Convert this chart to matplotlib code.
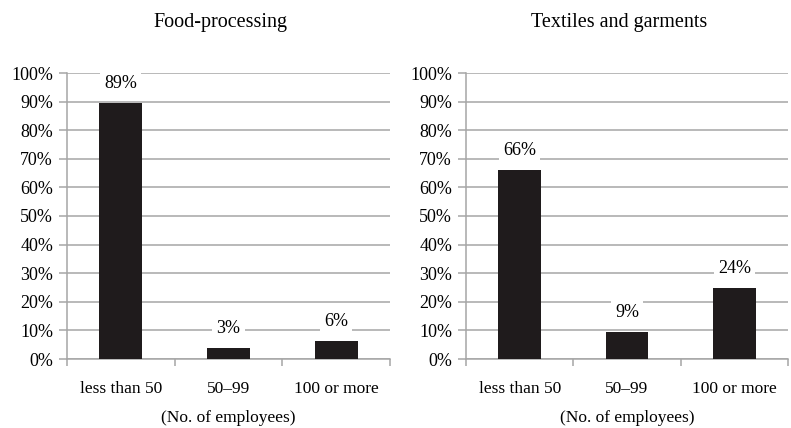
import matplotlib.pyplot as plt
import numpy as np
from matplotlib.ticker import PercentFormatter

categories = ["less than 50", "50\u201399", "100 or more"]
titles = ["Food-processing", "Textiles and garments"]
food_values = [89.5, 3.8, 6.3]
food_labels = ["89%", "3%", "6%"]
textile_values = [66, 9.4, 24.8]
textile_labels = ["66%", "9%", "24%"]

plt.rcParams["font.family"] = ["Liberation Serif", "DejaVu Serif"]
bar_color = "#1f1b1c"
line_color = "#a6a6a6"

fig = plt.figure(figsize=(7.91, 4.28), dpi=100)
boxes = [(67 / 791, 69 / 428, 323 / 791, 286 / 428), (466 / 791, 69 / 428, 322 / 791, 286 / 428)]

for box, title, values, labels in zip(boxes, titles, (food_values, textile_values), (food_labels, textile_labels)):
    ax = fig.add_axes(box)
    x = np.arange(len(categories))
    ax.bar(x, values, width=0.4, color=bar_color, zorder=3)
    ax.set_xlim(-0.5, len(categories) - 0.5)
    ax.set_ylim(0, 100)
    ax.set_yticks(np.arange(0, 101, 10))
    ax.yaxis.set_major_formatter(PercentFormatter(decimals=0))
    ax.grid(axis="y", color=line_color, linewidth=1.1, zorder=0)
    ax.set_xticks(x)
    ax.set_xticklabels(categories, fontsize=12.5)
    ax.set_xticks(np.arange(-0.5, len(categories)), minor=True)
    ax.tick_params(axis="x", which="major", length=0, pad=16)
    ax.tick_params(axis="x", which="minor", length=5, color=line_color, width=1.1)
    ax.tick_params(axis="y", length=6, color=line_color, width=1.1, labelsize=13, pad=4)
    for side in ("top", "right"):
        ax.spines[side].set_visible(False)
    for side in ("left", "bottom"):
        ax.spines[side].set_color(line_color)
        ax.spines[side].set_linewidth(1.1)
    for xi, v, lab in zip(x, values, labels):
        ax.annotate(lab, (xi, v), xytext=(0, 8), textcoords="offset points",
                    ha="center", va="bottom", fontsize=13, zorder=4,
                    bbox=dict(facecolor="white", edgecolor="none", pad=3))
    ax.set_title(title, fontsize=14.5, pad=33, x=0.475)
    ax.set_xlabel("(No. of employees)", fontsize=12.5, labelpad=9)

fig.savefig("out.png", dpi=100)
